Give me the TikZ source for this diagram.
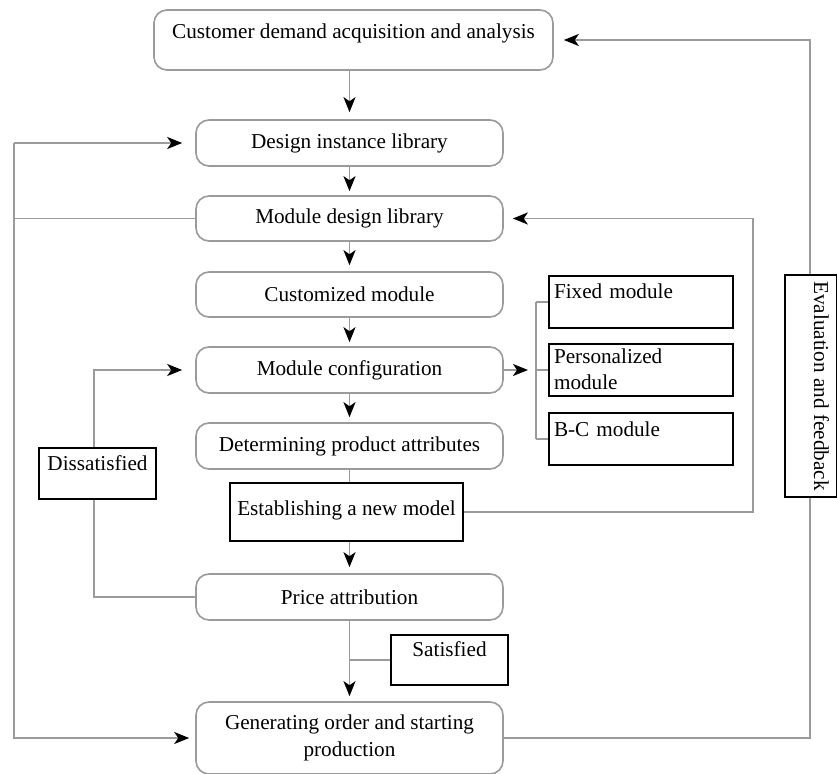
\documentclass[tikz,border=0pt]{standalone}
\usepackage{fontspec}
\setmainfont{Liberation Serif}
\usetikzlibrary{arrows.meta}
\definecolor{lgray}{RGB}{155,155,155}
\pgfdeclarelayer{bg}
\pgfdeclarelayer{lines}
\pgfsetlayers{bg,lines,main}
\begin{document}
\begin{tikzpicture}[x=1pt,y=-1pt,
  font=\fontsize{21.2}{26.5}\selectfont,
  rbox/.style={draw=lgray, line width=1.6pt, rounded corners=13pt, fill=white,
    inner sep=0pt, minimum width=307pt, minimum height=46pt, align=center},
  tbox/.style={draw=black, line width=1.8pt, fill=white, inner sep=0pt},
  ln/.style={draw=lgray, line width=1.6pt},
  arr/.style={ln, -{Stealth[length=15pt, width=12pt, inset=4pt, black]}}]
\useasboundingbox (0,0) rectangle (837,773);
\begin{pgfonlayer}{bg}
  \fill[white] (0,0) rectangle (837,773);
\end{pgfonlayer}

% main column
\node[rbox, minimum width=399pt, minimum height=60pt, text height=29pt, text depth=31pt] (top) at (353.5,40) {Customer demand acquisition and analysis};
\node[rbox] (design) at (349.5,143) {Design instance library};
\node[rbox, minimum height=45pt] (module) at (349.5,218.5) {Module design library};
\node[rbox, minimum height=45pt] (custom) at (349.5,294.5) {Customized module};
\node[rbox] (config) at (349.5,370) {Module configuration};
\node[rbox] (det) at (349.5,446) {Determining product attributes};
\node[rbox] (price) at (349.5,597) {Price attribution};
\node[rbox, minimum height=72pt] (gen) at (349.5,738) {Generating order and starting\\production};

% rectangular boxes
\node[tbox, minimum width=233pt, minimum height=58pt, text height=32pt, text depth=26pt] (estab) at (346.5,512) {Establishing a new model};
\node[tbox, minimum width=117pt, minimum height=51pt, text height=22pt, text depth=29pt] (dissat) at (97.5,473.5) {Dissatisfied};
\node[tbox, minimum width=117pt, minimum height=50pt, text height=21pt, text depth=29pt] (sat) at (449.5,660) {Satisfied};
\node[tbox, minimum height=52pt, text width=174pt, inner xsep=5pt, align=left, text height=22pt, text depth=30pt] (fixed) at (641,302) {Fixed module};
\node[tbox, minimum height=52pt, text width=174pt, inner xsep=5pt, align=left, text height=19pt, text depth=33pt] (pers) at (641,370) {Personalized\\module};
\node[tbox, minimum height=52pt, text width=174pt, inner xsep=5pt, align=left, text height=23pt, text depth=29pt] (bc) at (641,439) {B-C module};
\node[tbox, rotate=-90, minimum width=222pt, minimum height=52pt, text height=23pt, text depth=29pt] (eval) at (811,386) {Evaluation and feedback};

\coordinate (lx) at (14,0);
\coordinate (dx) at (94,0);
\coordinate (br) at (536,370);
\coordinate (ex) at (753,0);
\coordinate (rx) at (810,0);

\begin{pgfonlayer}{lines}
  % vertical flow
  \draw[arr, shorten >=7pt] (top.south -| design.south) -- (design.north);
  \draw[arr, shorten >=4pt] (design.south) -- (module.north);
  \draw[arr, shorten >=6pt] (module.south) -- (custom.north);
  \draw[arr, shorten >=4pt] (custom.south) -- (config.north);
  \draw[arr, shorten >=5pt] (config.south) -- (det.north);
  \draw[ln] (det.south) -- (det.south |- estab.north);
  \draw[arr, shorten >=6pt] (det.south |- estab.south) -- (price.north);
  \draw[arr, shorten >=5pt] (price.south) -- (gen.north);
  % satisfied
  \draw[ln] (sat.west -| price.south) -- (sat.west);
  % dissatisfied loop
  \draw[arr, shorten >=13pt] (price.west) -- (price.west -| dx) -- (config.west -| dx) -- (config.west);
  % left loop
  \draw[ln] (module.west) -- (module.west -| lx);
  \draw[arr, shorten >=13pt] (design.west -| lx) -- (design.west);
  \draw[arr, shorten >=6pt] (design.west -| lx) -- (gen.west -| lx) -- (gen.west);
  % module configuration branch
  \draw[arr, shorten >=8pt] (config.east) -- (br);
  \draw[ln] (fixed.west -| br) -- (bc.west -| br);
  \draw[ln] (fixed.west -| br) -- (fixed.west);
  \draw[ln] (br) -- (pers.west);
  \draw[ln] (bc.west -| br) -- (bc.west);
  % new model loop
  \draw[arr, shorten >=9pt] (estab.east) -- (estab.east -| ex) -- (module.east -| ex) -- (module.east);
  % feedback loop
  \draw[arr, shorten >=10pt] (gen.east) -- (gen.east -| rx) -- (top.east -| rx) -- (top.east);
\end{pgfonlayer}
\end{tikzpicture}
\end{document}
